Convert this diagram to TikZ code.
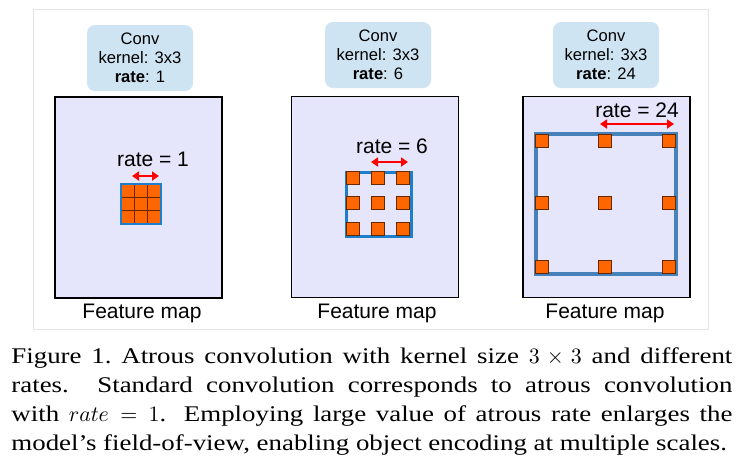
\documentclass[tikz,border=0pt]{standalone}
\usepackage[no-math]{fontspec}
\setmainfont[FakeStretch=1.2]{Liberation Serif}
\newfontfamily\diagfont{Liberation Sans}
\usetikzlibrary{arrows.meta}

\definecolor{convblue}{RGB}{207,228,242}
\definecolor{maplav}{RGB}{229,229,252}
\definecolor{kernorange}{RGB}{255,102,0}
\definecolor{kernedge}{RGB}{105,40,0}
\definecolor{ratebox}{RGB}{28,126,204}
\definecolor{ratebigbox}{RGB}{70,130,185}
\definecolor{framegray}{RGB}{228,228,228}

\tikzset{
  convbox/.style={fill=convblue, rounded corners=4pt, minimum width=53pt, minimum height=33pt,
    inner sep=0pt, align=center, font=\diagfont\fontsize{8.3}{9.5}\selectfont},
  featmap/.style={draw=black, fill=maplav, line width=0.75pt, minimum width=83.5pt,
    minimum height=100.5pt, inner sep=0pt},
  ratelabel/.style={anchor=base, inner sep=0pt, font=\diagfont\fontsize{10.5}{12}\selectfont},
  maplabel/.style={anchor=base, inner sep=0pt, font=\diagfont\fontsize{10.5}{12}\selectfont},
  ratearrow/.style={red, line width=1pt, {Triangle[length=3.5pt,width=4.5pt]}-{Triangle[length=3.5pt,width=4.5pt]}},
  kernsq/.style={fill=kernorange, draw=kernedge, line width=0.4pt},
  caption/.style={anchor=base west, inner sep=0pt, text width=360.5pt, align=justify,
    font=\fontsize{11.2}{14.65}\selectfont}
}

\begin{document}
\begin{tikzpicture}[x=0.5pt, y=-0.5pt]
  % 1. Page and light frame round the three panels
  \useasboundingbox (0,0) rectangle (742,473);
  \fill[white] (0,0) rectangle (742,473);
  \draw[framegray, line width=0.5pt] (33,9) rectangle (708,329);

  % 2. Conv boxes
  \node[convbox] (conva) at (140,58) {Conv\\kernel: 3x3\\\textbf{rate}: 1};
  \node[convbox] (convb) at (378,55) {Conv\\kernel: 3x3\\\textbf{rate}: 6};
  \node[convbox] (convc) at (606,55) {Conv\\kernel: 3x3\\\textbf{rate}: 24};

  % 3. Feature maps
  \node[featmap] (mapa) at (138.5,197.5) {};
  \node[featmap] (mapb) at (375,197) {};
  \node[featmap] (mapc) at (606.5,197) {};
  \node[maplabel] (labela) at (142,318) {Feature map};
  \node[maplabel] (labelb) at (377,318) {Feature map};
  \node[maplabel] (labelc) at (605,318) {Feature map};

  % 4. Rate labels and their arrows
  \node[ratelabel] (ratea) at (153,166) {rate = 1};
  \node[ratelabel] (rateb) at (392,153) {rate = 6};
  \node[ratelabel] (ratec) at (637,117) {rate = 24};
  \coordinate (arra1) at (132,176);
  \coordinate (arra2) at (159,176);
  \coordinate (arrb1) at (371,162);
  \coordinate (arrb2) at (408,162);
  \coordinate (arrc1) at (600,124);
  \coordinate (arrc2) at (674,124);
  \draw[ratearrow] (arra1) -- (arra2);
  \draw[ratearrow] (arrb1) -- (arrb2);
  \draw[ratearrow] (arrc1) -- (arrc2);

  % 5. Kernel, rate 1: dense 3x3 block
  \fill[kernorange] (121,184) rectangle (161,224);
  \foreach \k in {1,2} {
    \draw[kernedge, line width=0.6pt] (121+13.33*\k,184) -- (121+13.33*\k,224);
    \draw[kernedge, line width=0.6pt] (121,184+13.33*\k) -- (161,184+13.33*\k);
  }
  \draw[ratebox, line width=1pt] (121,184) rectangle (161,224);

  % 6. Kernel, rate 6
  \draw[ratebox, line width=1.5pt] (346,172) rectangle (411,236);
  \foreach \sx in {353,378,403}
    \foreach \sy in {178,203,229}
      \draw[kernsq] (\sx-6.5,\sy-6.5) rectangle (\sx+6.5,\sy+6.5);

  % 7. Kernel, rate 24
  \draw[ratebigbox, line width=1.6pt] (536,134) rectangle (676,274);
  \foreach \sx in {542,605,669}
    \foreach \sy in {141,203,267}
      \draw[kernsq] (\sx-6.5,\sy-6.5) rectangle (\sx+6.5,\sy+6.5);

  % 8. Caption
  \node[caption] (capt) at (11,363) {\parfillskip=0pt
    Figure 1.\ Atrous convolution with kernel size $3\times 3$ and different\linebreak
    rates.  Standard convolution corresponds to atrous convolution\linebreak
    with $rate=1$. Employing large value of atrous rate enlarges the\linebreak
    model's field-of-view, enabling object encoding at multiple scales.};
\end{tikzpicture}
\end{document}
